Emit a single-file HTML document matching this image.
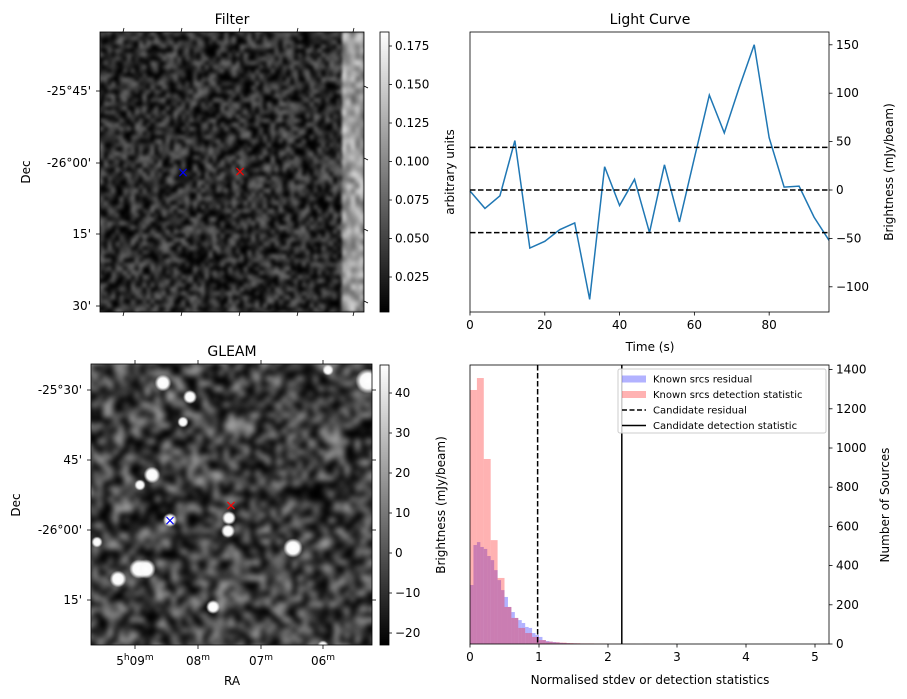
<!DOCTYPE html>
<html><head><meta charset="utf-8">
<style>
body{margin:0;background:#fff;width:907px;height:699px;position:relative;overflow:hidden;font-family:"Liberation Sans","DejaVu Sans",sans-serif}
canvas{position:absolute}
svg{position:absolute;left:0;top:0}
text{font-family:"DejaVu Sans","Liberation Sans",sans-serif}
</style></head><body>
<canvas id="filterImg" width="264" height="280" style="left:100px;top:32px"></canvas>
<canvas id="gleamImg" width="281" height="281" style="left:91px;top:364px"></canvas>
<canvas id="cb1" width="9" height="280" style="left:380px;top:32px"></canvas>
<canvas id="cb2" width="9" height="280" style="left:380px;top:365px"></canvas>
<svg id="s" width="907" height="699"></svg>
<script>
// ---- data ----
const lcTimes=[0,4,8,12,16,20,24,28,32,36,40,44,48,52,56,60,64,68,72,76,80,84,88,92,96];
const lcValues=[-1,-19,-6,51,-60,-53,-41,-34,-113,24,-16,11,-44,26,-33,33,98,59,106,150,54,3,4,-28,-52];
const lcThresholds=[44,0,-44];
const lcXTicks=[0,20,40,60,80];
const lcYTicks=[150,100,50,0,-50,-100];
const redCounts=[1296,1357,944,530,337,189,133,82,56,36,20,12,9,7,5,4,3,3,2,2,1,1,1,1,0,1,0,0,0,1];
const redBinWidth=0.1;
const blueCounts=[301,505,520,495,485,449,428,377,326,275,240,189,163,133,122,107,87,82,56,46,36,20,15,12,10,8,6,5,4,3,3,2,2,1,1];
const blueBinWidth=0.05;
const candResidual=0.98;
const candDetection=2.2;
const histXTicks=[0,1,2,3,4,5];
const histYTicks=[0,200,400,600,800,1000,1200,1400];
const filterCbTicks=[0.025,0.05,0.075,0.1,0.125,0.15,0.175];
const gleamCbTicks=[-20,-10,0,10,20,30,40];

const S=document.getElementById('s');const NS='http://www.w3.org/2000/svg';
function el(t,a,txt){const e=document.createElementNS(NS,t);for(const k in a)e.setAttribute(k,a[k]);if(txt!==undefined)e.textContent=txt;S.appendChild(e);return e;}
function line(x1,y1,x2,y2,extra){return el('line',Object.assign({x1,y1,x2,y2,stroke:'#000','stroke-width':0.8},extra||{}));}
function txt(x,y,s,anchor,extra){return el('text',Object.assign({x,y,'text-anchor':anchor||'middle','font-size':12,fill:'#000'},extra||{}),s);}

// ---- Light curve ----
const LX0=470,LX1=829,LY0=32,LY1=312;
const lx=t=>LX0+(t-0)/96*(LX1-LX0);
const ly=v=>190-v*0.968;
let d='';lcTimes.forEach((t,i)=>{d+=(i?'L':'M')+lx(t)+','+ly(lcValues[i]);});
let p=el('path',{d,fill:'none',stroke:'#1f77b4','stroke-width':1.5});

lcThresholds.forEach(v=>{let l=line(LX0,ly(v),LX1,ly(v),{'stroke-dasharray':'5.5,2.5','stroke-width':1.5});});
let r=el('rect',{x:LX0,y:LY0,width:LX1-LX0,height:LY1-LY0,fill:'none',stroke:'#000','stroke-width':0.8});

lcXTicks.forEach(t=>{line(lx(t),LY1,lx(t),LY1+3.5);let e=txt(lx(t),LY1+17,t);});
lcYTicks.forEach(v=>{line(LX1,ly(v),LX1+3.5,ly(v));let e=txt(LX1+7,ly(v)+4,v<0?'\u2212'+(-v):v,'start');});
txt(650,24,'Light Curve','middle',{'font-size':14,});
txt(650,351,'Time (s)','middle',{});
txt(0,0,'arbitrary units','middle',{transform:'translate(454,172) rotate(-90)',});
txt(0,0,'Brightness (mJy/beam)','middle',{transform:'translate(893,172) rotate(-90)',});

// ---- Histogram ----
const HX0=470,HX1=829,HY0=365,HY1=644;
const hx=v=>HX0+v*69;
const hy=c=>HY1-c*0.196;
blueCounts.forEach((c,i)=>{if(!c)return;let b=el('rect',{x:hx(i*blueBinWidth),y:hy(c),width:hx((i+1)*blueBinWidth)-hx(i*blueBinWidth),height:HY1-hy(c),fill:'rgb(0,0,255)','fill-opacity':0.3});});
redCounts.forEach((c,i)=>{if(!c)return;let b=el('rect',{x:hx(i*redBinWidth),y:hy(c),width:hx((i+1)*redBinWidth)-hx(i*redBinWidth),height:HY1-hy(c),fill:'rgb(255,0,0)','fill-opacity':0.3});});
let cl1=line(hx(candResidual),HY0,hx(candResidual),HY1,{'stroke-dasharray':'5.5,2.5','stroke-width':1.5});
let cl2=line(hx(candDetection),HY0,hx(candDetection),HY1,{'stroke-width':1.5});
el('rect',{x:HX0,y:HY0,width:HX1-HX0,height:HY1-HY0,fill:'none',stroke:'#000','stroke-width':0.8,});
histXTicks.forEach(v=>{line(hx(v),HY1,hx(v),HY1+3.5);let e=txt(hx(v),HY1+17,v);});
histYTicks.forEach(v=>{line(HX1,hy(v),HX1+3.5,hy(v));let e=txt(HX1+7,hy(v)+4,v,'start');});
txt(650,684,'Normalised stdev or detection statistics','middle',{});
txt(0,0,'Brightness (mJy/beam)','middle',{transform:'translate(445,505) rotate(-90)',});
txt(0,0,'Number of Sources','middle',{transform:'translate(889,505) rotate(-90)',});
// legend
el('rect',{x:618,y:369,width:208,height:64,rx:2,fill:'#fff','fill-opacity':0.8,stroke:'#ccc',});
const leg=[['Known srcs residual','b'],['Known srcs detection statistic','r'],['Candidate residual','d'],['Candidate detection statistic','s']];
leg.forEach((L,i)=>{const y=379+i*15.5;
 if(L[1]=='b')el('rect',{x:622,y:y-3.5,width:24,height:7,fill:'rgb(0,0,255)','fill-opacity':0.3});
 else if(L[1]=='r')el('rect',{x:622,y:y-3.5,width:24,height:7,fill:'rgb(255,0,0)','fill-opacity':0.3});
 else if(L[1]=='d')line(622,y,646,y,{'stroke-dasharray':'5,2.5','stroke-width':1.5});
 else line(622,y,646,y,{'stroke-width':1.5});
 let e=txt(653,y+3.5,L[0],'start',{'font-size':10});});

// ---- Filter panel axes ----
el('rect',{x:100,y:32,width:264,height:280,fill:'none',stroke:'#000','stroke-width':0.8,});
txt(232,24,'Filter','middle',{'font-size':14,});
[[91,'-25°45\''],[163,'-26°00\''],[234,'15\''],[306,'30\'']].forEach(a=>{line(96,a[0],100,a[0]);let e=txt(91,a[0]+4,a[1],'end');line(364,a[0]-5,368,a[0]-3);});
[123,181,239,297,353].forEach(x=>{line(x+1,28,x,32);line(x+1,312,x,316);});
txt(0,0,'Dec','middle',{transform:'translate(30,172) rotate(-90)',});
txt(183,177,'×','middle',{fill:'#00f','font-size':14,});
txt(240,176,'×','middle',{fill:'#f00','font-size':14,});
el('rect',{x:380,y:32,width:9,height:280,fill:'none',stroke:'#000','stroke-width':0.8});
filterCbTicks.forEach(v=>{const y=46+(0.175-v)*1540;line(389,y,392,y);let e=txt(395,y+4,v.toFixed(3),'start');});

// ---- GLEAM panel axes ----
el('rect',{x:91,y:364,width:281,height:281,fill:'none',stroke:'#000','stroke-width':0.8,});
txt(232,356,'GLEAM','middle',{'font-size':14,});
[[390,'-25°30\''],[460,'45\''],[530,'-26°00\''],[600,'15\'']].forEach(a=>{line(87,a[0],91,a[0]);line(372,a[0],376,a[0]);let e=txt(82,a[0]+4,a[1],'end');});
[[135,'5','09',true],[198,'','08'],[261,'','07'],[323,'','06']].forEach(a=>{line(a[0],645,a[0],649);line(a[0],360,a[0],364);
 const e=txt(a[0],665,'');
 if(a[3]){e.appendChild(document.createTextNode('5'));const h=document.createElementNS(NS,'tspan');h.setAttribute('dy','-5');h.setAttribute('font-size','9');h.textContent='h';e.appendChild(h);const n=document.createElementNS(NS,'tspan');n.setAttribute('dy','5');n.textContent='09';e.appendChild(n);}
 else{e.appendChild(document.createTextNode(a[2]));}
 const m=document.createElementNS(NS,'tspan');m.setAttribute('dy','-5');m.setAttribute('font-size','9');m.textContent='m';e.appendChild(m);});
txt(232,685,'RA','middle',{});
txt(0,0,'Dec','middle',{transform:'translate(20,505) rotate(-90)',});
txt(170,525,'×','middle',{fill:'#00f','font-size':14,});
txt(231,510,'×','middle',{fill:'#f00','font-size':14,});
el('rect',{x:380,y:365,width:9,height:280,fill:'none',stroke:'#000','stroke-width':0.8});
gleamCbTicks.forEach(v=>{const y=393+(40-v)*4;line(389,y,392,y);let e=txt(395,y+4,v<0?'\u2212'+(-v):v,'start');});

// ---- image textures ----
let seed=12345;function rnd(){seed=(seed*1103515245+12345)%2147483648;return seed/2147483648;}
function noise(cv,n,base,amp,blur){const w=cv.width,h=cv.height;const sc=document.createElement('canvas');sc.width=n;sc.height=n;const sx=sc.getContext('2d');const im=sx.createImageData(n,n);
 for(let i=0;i<n*n;i++){const v=Math.max(0,Math.min(255,base+(rnd()-0.5)*amp));im.data[i*4]=im.data[i*4+1]=im.data[i*4+2]=v;im.data[i*4+3]=255;}
 sx.putImageData(im,0,0);const c=cv.getContext('2d');c.imageSmoothingEnabled=true;c.imageSmoothingQuality='high';c.filter='blur('+blur+'px)';c.drawImage(sc,-4,-4,w+8,h+8);c.filter='none';return c;}
const fc=noise(document.getElementById('filterImg'),70,42,140,1.5);
const st=document.createElement('canvas');st.width=5;st.height=50;const stx=st.getContext('2d');
for(let i=0;i<250;i++){const v=110+rnd()*140;stx.fillStyle='rgb('+v+','+v+','+v+')';stx.fillRect(i%5,Math.floor(i/5),1,1);}
fc.filter='blur(1.5px)';fc.globalAlpha=0.85;fc.drawImage(st,242,0,22,280);fc.globalAlpha=1;fc.filter='none';
const gc=noise(document.getElementById('gleamImg'),55,55,230,2.5);
const blobs=[[163,383,6],[190,397,5],[183,422,4],[152,475,6],[170,520,5],[229,518,5],[228,531,5],[293,548,7],[139,569,7],[146,569,7],[118,579,6],[213,607,5],[368,381,9],[328,370,4],[323,646,4],[97,542,4],[140,485,4]];
blobs.forEach(b=>{const x=b[0]-91,y=b[1]-364;const g=gc.createRadialGradient(x,y,0,x,y,b[2]*1.4);g.addColorStop(0,'rgba(255,255,255,1)');g.addColorStop(0.6,'rgba(250,250,250,1)');g.addColorStop(1,'rgba(255,255,255,0)');gc.fillStyle=g;gc.beginPath();gc.arc(x,y,b[2]*1.4,0,7);gc.fill();});
['cb1','cb2'].forEach(id=>{const c=document.getElementById(id).getContext('2d');const g=c.createLinearGradient(0,0,0,280);g.addColorStop(0,'#fff');g.addColorStop(1,'#000');c.fillStyle=g;c.fillRect(0,0,9,280);});
</script>
</body></html>
